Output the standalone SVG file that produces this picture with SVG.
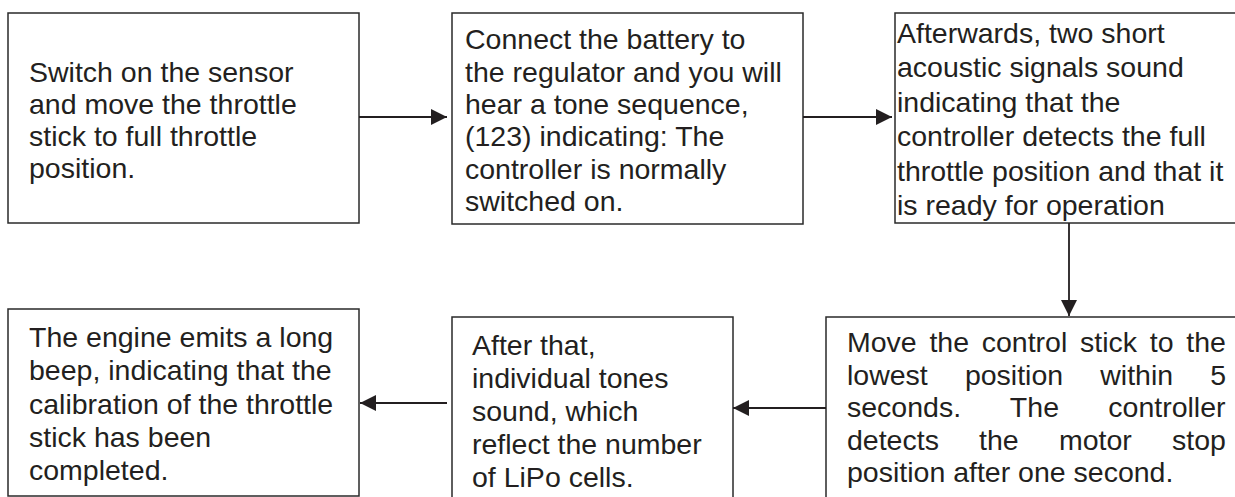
<svg xmlns="http://www.w3.org/2000/svg" width="1235" height="497" viewBox="0 0 1235 497">
<defs>
<style>
.box{fill:#fff;stroke:#2a2a2a;stroke-width:1.5}
.t{font-family:"Liberation Sans",Arial,sans-serif;font-size:28.5px;fill:#231f20}
.c{stroke:#231f20;stroke-width:1.8;fill:none;marker-end:url(#ah)}
</style>
<marker id="ah" markerUnits="userSpaceOnUse" markerWidth="16" markerHeight="16" viewBox="0 0 16 16" refX="16" refY="8" orient="auto">
<path d="M0,0 L16,8 L0,16 z" fill="#231f20"/>
</marker>
</defs>
<rect width="1235" height="497" fill="#fff"/>
<g id="n1">
<rect class="box" x="8" y="13" width="351" height="210"/>
<text class="t"><tspan x="29" y="81.5">Switch on the sensor</tspan><tspan x="29" y="113.8">and move the throttle</tspan><tspan x="29" y="146">stick to full throttle</tspan><tspan x="29" y="178.3">position.</tspan></text>
</g>
<g id="n2">
<rect class="box" x="452" y="13" width="351" height="211"/>
<text class="t"><tspan x="465" y="49.3">Connect the battery to</tspan><tspan x="465" y="81.6">the regulator and you will</tspan><tspan x="465" y="113.9">hear a tone sequence,</tspan><tspan x="465" y="146.2">(123) indicating: The</tspan><tspan x="465" y="178.5">controller is normally</tspan><tspan x="465" y="210.8">switched on.</tspan></text>
</g>
<g id="n3">
<rect class="box" x="895" y="13" width="350" height="210"/>
<text class="t"><tspan x="897" y="43">Afterwards, two short</tspan><tspan x="897" y="77.4">acoustic signals sound</tspan><tspan x="897" y="111.8">indicating that the</tspan><tspan x="897" y="146.2">controller detects the full</tspan><tspan x="897" y="180.6">throttle position and that it</tspan><tspan x="897" y="215">is ready for operation</tspan></text>
</g>
<g id="n4">
<rect class="box" x="8" y="309" width="351" height="187"/>
<text class="t"><tspan x="29" y="347">The engine emits a long</tspan><tspan x="29" y="380.3">beep, indicating that the</tspan><tspan x="29" y="413.6">calibration of the throttle</tspan><tspan x="29" y="447">stick has been</tspan><tspan x="29" y="480">completed.</tspan></text>
</g>
<g id="n5">
<rect class="box" x="452" y="317" width="281" height="200"/>
<text class="t"><tspan x="472" y="355">After that,</tspan><tspan x="472" y="388">individual tones</tspan><tspan x="472" y="421">sound, which</tspan><tspan x="472" y="454">reflect the number</tspan><tspan x="472" y="487">of LiPo cells.</tspan></text>
</g>
<g id="n6">
<rect class="box" x="826" y="317" width="420" height="200"/>
<text class="t"><tspan x="847" y="352" word-spacing="4.8">Move the control stick to the</tspan><tspan x="847" y="384.5" word-spacing="29.2">lowest position within 5</tspan><tspan x="847" y="417" word-spacing="41.4">seconds. The controller</tspan><tspan x="847" y="449.5" word-spacing="32.3">detects the motor stop</tspan><tspan x="847" y="482">position after one second.</tspan></text>
</g>
<g id="connectors">
<line class="c" x1="359" y1="117" x2="447" y2="117"/>
<line class="c" x1="803" y1="117" x2="892" y2="117"/>
<line class="c" x1="1069" y1="223" x2="1069" y2="316"/>
<line class="c" x1="826" y1="408" x2="733" y2="408"/>
<line class="c" x1="447" y1="403" x2="360" y2="403"/>
</g>
</svg>
